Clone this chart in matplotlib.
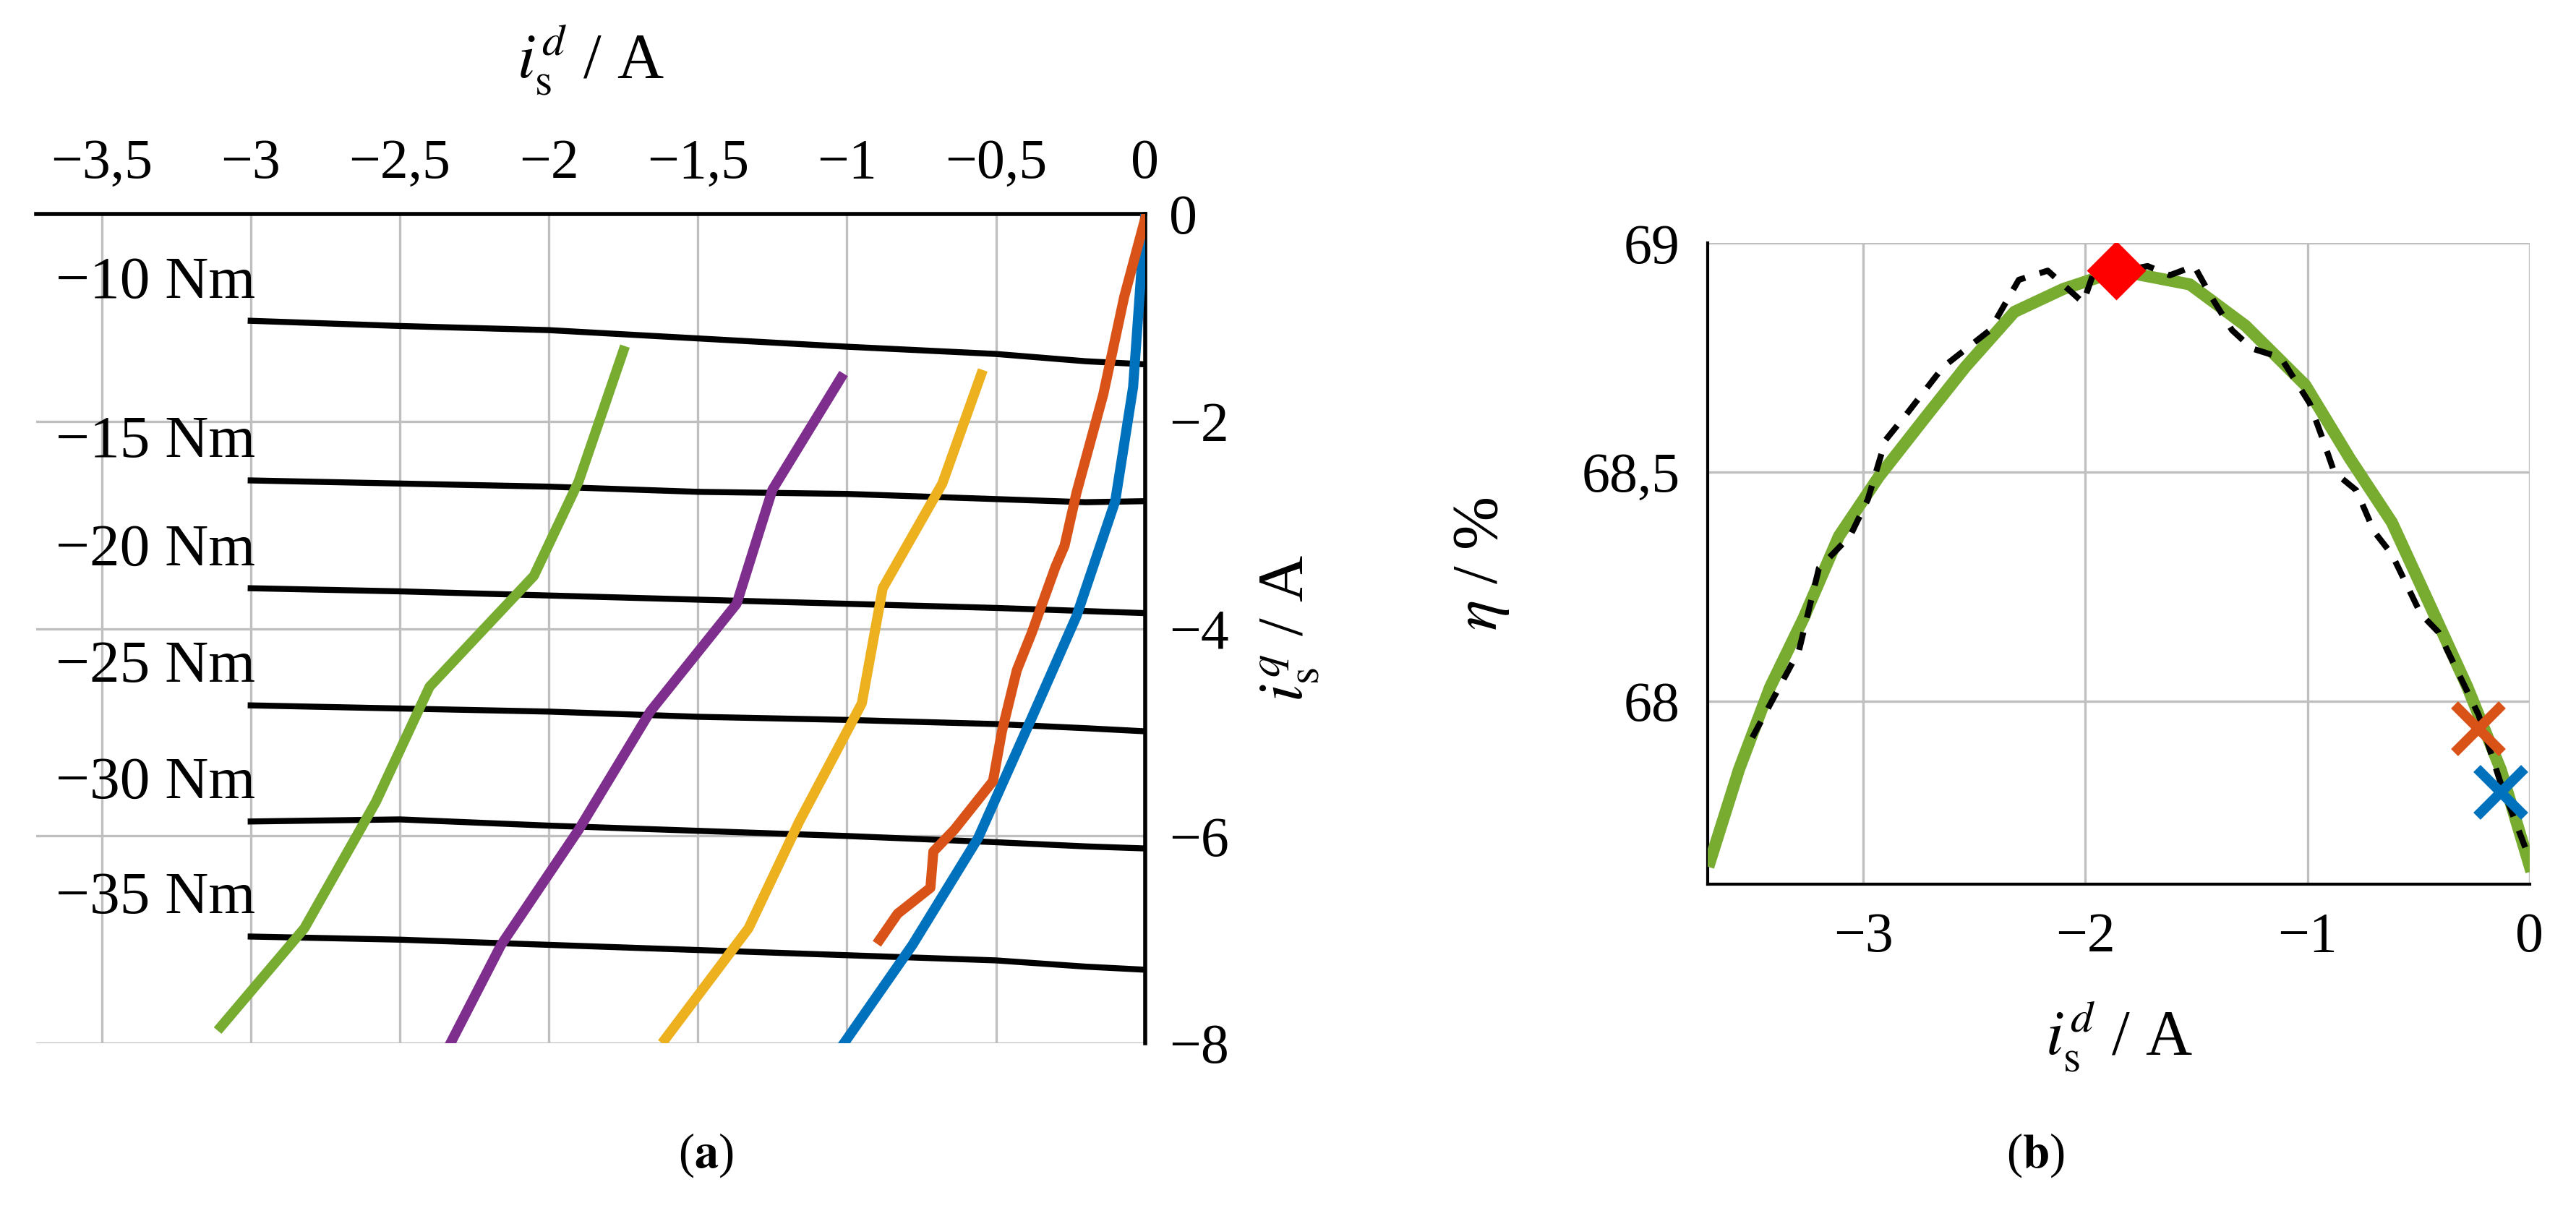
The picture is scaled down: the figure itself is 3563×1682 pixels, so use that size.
import matplotlib.pyplot as plt

plt.rcParams['font.family'] = ['Liberation Serif', 'DejaVu Serif']
plt.rcParams['mathtext.fontset'] = 'stix'
plt.rcParams['font.size'] = 28

# panel (a): torque lines
torque_x = [-3.0, -2.5, -2.0, -1.5, -1.0, -0.5, -0.2, 0.0]
torque_labels = ['−10 Nm', '−15 Nm', '−20 Nm', '−25 Nm', '−30 Nm', '−35 Nm']
torque_y = [
    [-1.03, -1.08, -1.12, -1.2, -1.28, -1.35, -1.42, -1.45],
    [-2.57, -2.6, -2.63, -2.68, -2.7, -2.75, -2.78, -2.77],
    [-3.61, -3.64, -3.68, -3.72, -3.76, -3.8, -3.83, -3.85],
    [-4.74, -4.77, -4.8, -4.85, -4.88, -4.92, -4.96, -4.99],
    [-5.86, -5.84, -5.9, -5.95, -6.0, -6.06, -6.1, -6.12],
    [-6.97, -7.0, -7.05, -7.1, -7.15, -7.2, -7.26, -7.29],
]

curves = {
    '#0072BD': ([0.0, -0.04, -0.1, -0.23, -0.4, -0.56, -0.78, -1.01],
                [-0.05, -1.67, -2.77, -3.88, -4.99, -6.02, -7.05, -8.0]),
    '#D95319': ([0.0, -0.07, -0.14, -0.23, -0.27, -0.3, -0.38, -0.43, -0.48, -0.51, -0.64,
                 -0.71, -0.72, -0.83, -0.89],
                [-0.05, -0.8, -1.74, -2.69, -3.2, -3.4, -4.04, -4.4, -4.99, -5.47, -5.94,
                 -6.15, -6.5, -6.75, -7.0]),
    '#EDB120': ([-0.55, -0.68, -0.88, -0.95, -1.16, -1.33, -1.61],
                [-1.55, -2.6, -3.61, -4.72, -5.86, -6.89, -7.96]),
    '#7E2F8E': ([-1.02, -1.25, -1.37, -1.66, -1.9, -2.16, -2.33],
                [-1.58, -2.66, -3.76, -4.8, -5.94, -7.05, -8.0]),
    '#77AC30': ([-1.75, -1.9, -2.05, -2.4, -2.58, -2.82, -3.1],
                [-1.32, -2.58, -3.49, -4.56, -5.67, -6.89, -7.84]),
}

# panel (b): efficiency
fit_x = [-3.69, -3.56, -3.42, -3.27, -3.11, -2.93, -2.72, -2.54, -2.32, -2.1, -1.85,
         -1.53, -1.28, -1.01, -0.81, -0.62, -0.44, -0.28, -0.13, 0.0]
fit_eta = [67.65, 67.85, 68.03, 68.18, 68.36, 68.49, 68.62, 68.73, 68.85, 68.9, 68.94,
           68.91, 68.82, 68.69, 68.53, 68.39, 68.2, 68.03, 67.85, 67.64]
meas_x = [-3.5, -3.29, -3.2, -3.06, -2.98, -2.9, -2.8, -2.64, -2.43, -2.3, -2.17, -2.01,
          -1.96, -1.83, -1.72, -1.62, -1.51, -1.43, -1.34, -1.25, -1.12, -0.99, -0.93,
          -0.88, -0.78, -0.7, -0.62, -0.49, -0.41, -0.23, -0.13, -0.02]
meas_eta = [67.92, 68.11, 68.29, 68.36, 68.44, 68.57, 68.63, 68.73, 68.81, 68.92, 68.94,
            68.87, 68.94, 68.94, 68.95, 68.93, 68.95, 68.88, 68.81, 68.77, 68.75, 68.65,
            68.57, 68.5, 68.46, 68.37, 68.32, 68.19, 68.15, 67.97, 67.82, 67.68]
opt_point = (-1.86, 68.94)
orange_point = (-0.23, 67.94)
blue_point = (-0.13, 67.8)

fig = plt.figure(figsize=(17.815, 8.41), dpi=200)
grid_c = '#BFBFBF'

ax = fig.add_axes([0.014, 0.142, 0.4305, 0.682])
for ty in torque_y:
    ax.plot(torque_x, ty, color='black', lw=3, zorder=3)
for lab, ty in zip(torque_labels, torque_y):
    ax.text(-3.32, ty[0] + 0.1, lab, ha='center', va='bottom', fontsize=30)
for c, (xs, ys) in curves.items():
    ax.plot(xs, ys, color=c, lw=5, zorder=4)
ax.set_xlim(-3.72, 0)
ax.set_ylim(-8, 0)
ax.set_xticks([-3.5, -3, -2.5, -2, -1.5, -1, -0.5, 0])
ax.set_xticklabels(['−3,5', '−3', '−2,5', '−2', '−1,5', '−1', '−0,5', '0'])
ax.set_yticks([-8, -6, -4, -2, 0])
ax.set_yticklabels(['−8', '−6', '−4', '−2', '0'])
ax.xaxis.tick_top()
ax.xaxis.set_label_position('top')
ax.yaxis.tick_right()
ax.yaxis.set_label_position('right')
ax.set_xlabel(r'$i_\mathrm{s}^{d}$ / A', labelpad=30, fontsize=32)
ax.set_ylabel(r'$i_\mathrm{s}^{q}$ / A', rotation=90, labelpad=15, fontsize=32)
ax.grid(True, color=grid_c, lw=1.2)
ax.tick_params(length=0, pad=12)
for s in ['left', 'bottom']:
    ax.spines[s].set_visible(False)
for s in ['top', 'right']:
    ax.spines[s].set_linewidth(2)
ax.set_axisbelow(True)

bx = fig.add_axes([0.663, 0.273, 0.319, 0.527])
bx.plot(fit_x, fit_eta, color='#77AC30', lw=6, zorder=3)
bx.plot(meas_x, meas_eta, color='black', lw=3, ls=(0, (3, 2.5)), zorder=4)
bx.plot(*opt_point, marker='D', color='red', ms=20, zorder=5)
bx.plot(*orange_point, marker='x', color='#D95319', ms=24, mew=5, zorder=5)
bx.plot(*blue_point, marker='x', color='#0072BD', ms=24, mew=5, zorder=5)
bx.set_xlim(-3.7, 0)
bx.set_ylim(67.6, 69)
bx.set_xticks([-3, -2, -1, 0])
bx.set_xticklabels(['−3', '−2', '−1', '0'])
bx.set_yticks([68, 68.5, 69])
bx.set_yticklabels(['68', '68,5', '69'])
bx.grid(True, color=grid_c, lw=1.2)
bx.set_axisbelow(True)
bx.tick_params(length=0, pad=14)
for s in ['top', 'right']:
    bx.spines[s].set_visible(False)
for s in ['left', 'bottom']:
    bx.spines[s].set_linewidth(1.5)
bx.set_xlabel(r'$i_\mathrm{s}^{d}$ / A', labelpad=18, fontsize=32)
bx.set_ylabel(r'$\eta$ / %', labelpad=35, fontsize=32)

fig.text(0.274, 0.04, r'($\mathbf{a}$)', ha='center', fontsize=24)
fig.text(0.79, 0.04, r'($\mathbf{b}$)', ha='center', fontsize=24)

fig.savefig('out.png', dpi=200)
